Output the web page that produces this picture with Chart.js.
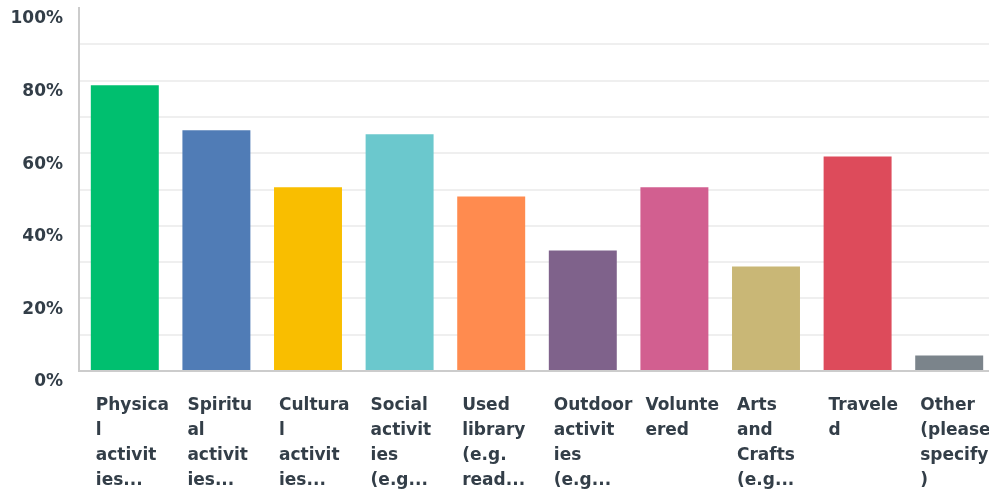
<!DOCTYPE html>
<html>
<head>
<meta charset="utf-8">
<script src="https://cdn.jsdelivr.net/npm/chart.js@4/dist/chart.umd.min.js"></script>
<style>
  html, body { margin: 0; padding: 0; background: #ffffff; }
  #wrap { width: 989px; height: 491px; overflow: hidden; position: relative; }
  #c { position: absolute; left: 0; top: 0; }
</style>
</head>
<body>
<div id="wrap"><canvas id="c" width="995" height="491"></canvas></div>
<script>
const categories = [
  ["Physica", "l", "activit", "ies..."],
  ["Spiritu", "al", "activit", "ies..."],
  ["Cultura", "l", "activit", "ies..."],
  ["Social", "activit", "ies", "(e.g..."],
  ["Used", "library", "(e.g.", "read..."],
  ["Outdoor", "activit", "ies", "(e.g..."],
  ["Volunte", "ered"],
  ["Arts", "and", "Crafts", "(e.g..."],
  ["Travele", "d"],
  ["Other", "(please", "specify", ")"]
];
const values = [78.7, 66.3, 50.6, 65.2, 48.1, 33.2, 50.6, 28.8, 59.1, 4.3];
const colors = ["#00bf6f", "#507cb6", "#f9be00", "#6bc8cd", "#ff8b4f", "#7f628b", "#d25f90", "#c9b776", "#dd4b5b", "#7b848b"];
const yTickLabels = ["0%", "20%", "40%", "60%", "80%", "100%"];

const fontFamily = "'DejaVu Sans', sans-serif";
const textColor = "#333e48";

new Chart(document.getElementById('c'), {
  type: 'bar',
  data: {
    labels: categories,
    datasets: [{
      data: values,
      backgroundColor: colors,
      borderWidth: 0,
      categoryPercentage: 1,
      barPercentage: 0.742
    }]
  },
  options: {
    responsive: false,
    animation: false,
    layout: { padding: { left: 0, right: 0, top: 8, bottom: 0 } },
    plugins: { legend: { display: false }, tooltip: { enabled: false } },
    scales: {
      x: {
        grid: { display: false },
        border: { display: true, color: '#cccccc', width: 2 },
        ticks: {
          color: textColor,
          font: { family: fontFamily, size: 17, weight: 'bold', lineHeight: 25 / 17 },
          align: 'start',
          labelOffset: -29,
          padding: 14,
          maxRotation: 0,
          minRotation: 0,
          autoSkip: false
        },
        afterFit: (s) => { s.height = 120; s.paddingLeft = 0; s.paddingRight = 0; }
      },
      y: {
        min: 0,
        max: 100,
        grid: {
          color: (ctx) => (ctx.tick && ctx.tick.value === 100) ? 'rgba(0,0,0,0)' : '#efefef',
          lineWidth: 2,
          drawTicks: false
        },
        border: { display: true, color: '#cccccc', width: 2 },
        ticks: {
          stepSize: 10,
          color: textColor,
          font: { family: fontFamily, size: 17, weight: 'bold' },
          padding: 16,
          labelOffset: 11,
          callback: (v) => (v % 20 === 0) ? yTickLabels[v / 20] : ''
        },
        afterFit: (s) => { s.width = 79; s.paddingTop = 0; s.paddingBottom = 0; }
      }
    }
  }
});
</script>
</body>
</html>
